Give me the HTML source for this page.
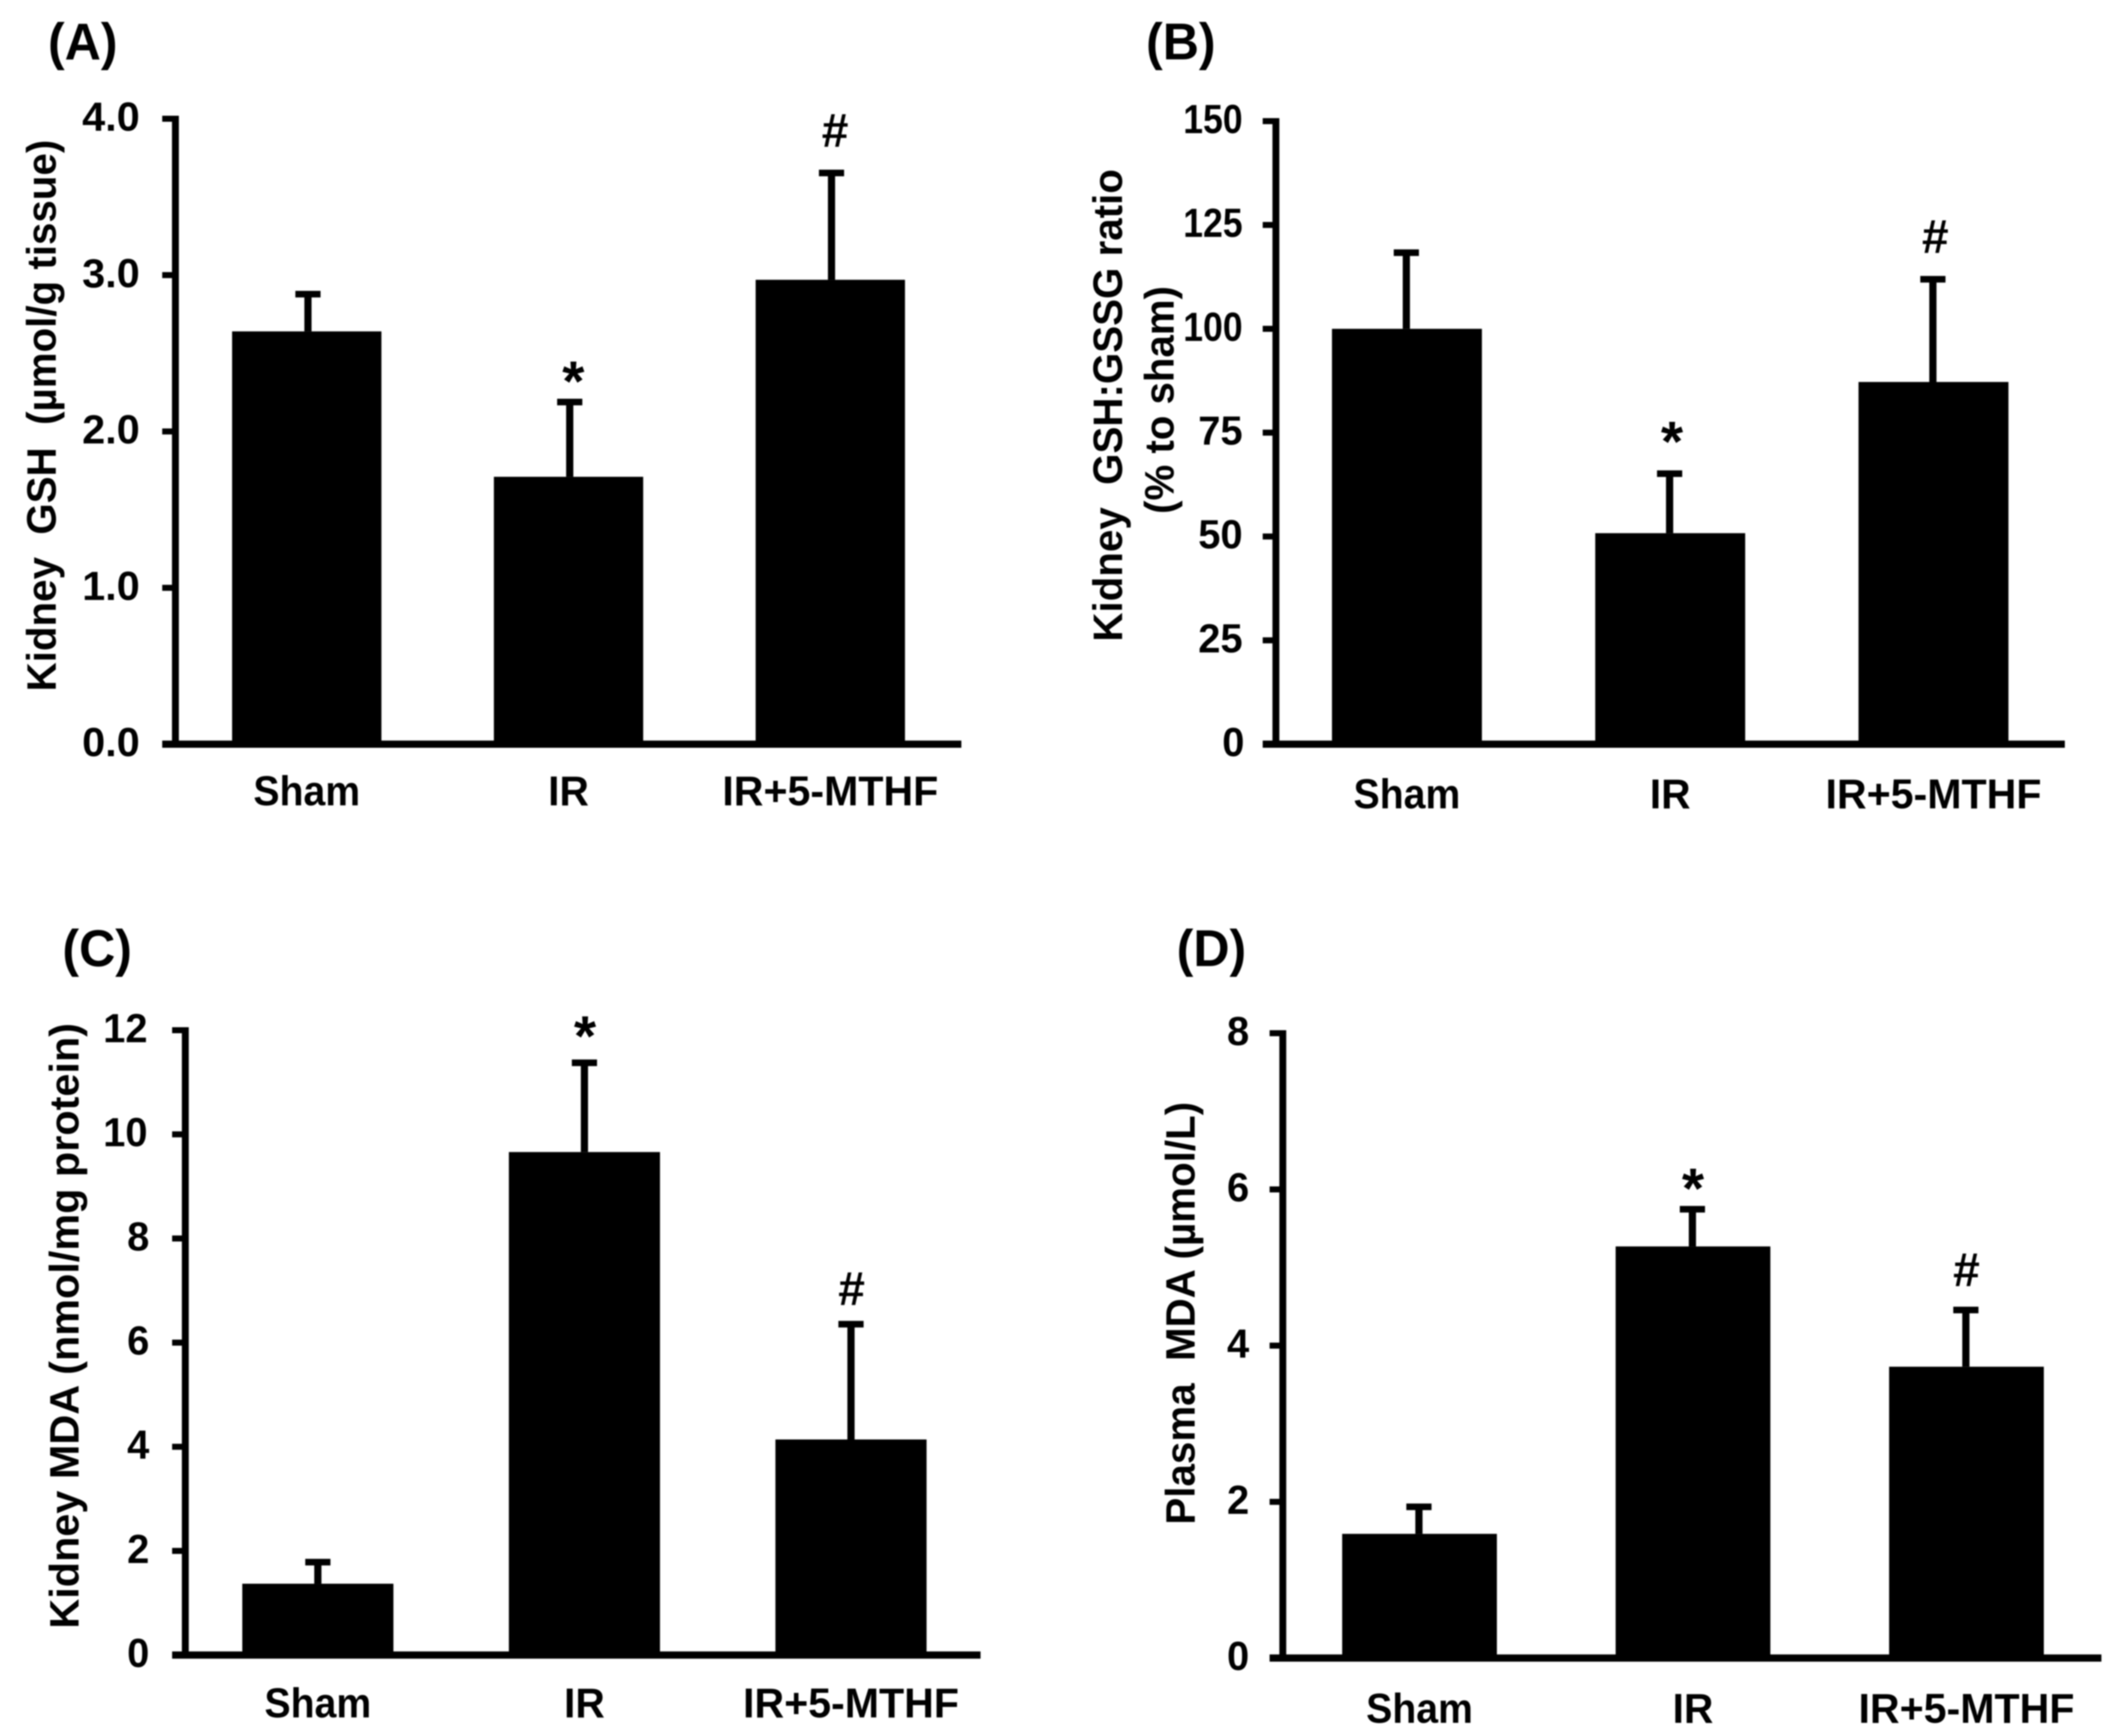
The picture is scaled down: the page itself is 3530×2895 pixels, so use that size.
<!DOCTYPE html>
<html>
<head>
<meta charset="utf-8">
<title>Kidney GSH and MDA bar charts</title>
<style>
html,body{margin:0;padding:0;background:#fff;}
svg{display:block;filter:blur(1px);}
text{font-family:"Liberation Sans",Arial,sans-serif;fill:#000;}
</style>
</head>
<body>
<svg id="figure" xmlns="http://www.w3.org/2000/svg" width="3530" height="2895" viewBox="0 0 3530 2895">
<rect x="0" y="0" width="3530" height="2895" fill="#fff"/>
</svg>
<script>
const categories = ['Sham', 'IR', 'IR+5-MTHF'];
const markers = ['', '*', '#'];

const panelAValues = [2.64, 1.71, 2.97];
const panelAErrors = [0.24, 0.48, 0.685];
const panelATicks = ['0.0', '1.0', '2.0', '3.0', '4.0'];

const panelBValues = [100, 50.8, 87.2];
const panelBErrors = [18.4, 14.4, 24.8];
const panelBTicks = ['0', '25', '50', '75', '100', '125', '150'];

const panelCValues = [1.37, 9.66, 4.14];
const panelCErrors = [0.42, 1.72, 2.22];
const panelCTicks = ['0', '2', '4', '6', '8', '10', '12'];

const panelDValues = [1.59, 5.27, 3.73];
const panelDErrors = [0.35, 0.48, 0.73];
const panelDTicks = ['0', '2', '4', '6', '8'];

const panels = [
  { id: 'a', label: '(A)', labelX: 80, labelY: 99,
    values: panelAValues, errors: panelAErrors, ticks: panelATicks,
    axisX: 292.5, top: 198, base: 1241, xEnd: 1603, barLeft: 387, barStep: 436.5, barW: 249,
    tickRight: 233, catY: 1343, errDx: 2, markDx: 8, gap: { '*': 44, '#': 69 },
    titles: [{ text: 'Kidney  GSH  (µmol/g tissue)', x: 93, y: 693, len: 920 }] },
  { id: 'b', label: '(B)', labelX: 1911, labelY: 99,
    values: panelBValues, errors: panelBErrors, ticks: panelBTicks,
    axisX: 2127.5, top: 202, base: 1241, xEnd: 3443, barLeft: 2221, barStep: 439, barW: 250,
    tickRight: 2072, catY: 1348, errDx: -1, markDx: 3, gap: { '*': 63, '#': 69 },
    titles: [{ text: 'Kidney  GSH:GSSG ratio', x: 1871, y: 676, len: 788 },
             { text: '(% to sham)', x: 1957, y: 667, len: 380 }] },
  { id: 'c', label: '(C)', labelX: 104, labelY: 1611,
    values: panelCValues, errors: panelCErrors, ticks: panelCTicks,
    axisX: 309, top: 1718, base: 2760, xEnd: 1635, barLeft: 404, barStep: 444.5, barW: 252,
    tickRight: 246, catY: 2864, errDx: 0, markDx: 1, gap: { '*': 54, '#': 57 },
    titles: [{ text: 'Kidney MDA (nmol/mg protein)', x: 131, y: 2211, len: 1010 }] },
  { id: 'd', label: '(D)', labelX: 1962, labelY: 1611,
    values: panelDValues, errors: panelDErrors, ticks: panelDTicks,
    axisX: 2139, top: 1723, base: 2765, xEnd: 3504, barLeft: 2238, barStep: 456, barW: 258,
    tickRight: 2080, catY: 2873, errDx: -1, markDx: 0, gap: { '*': 44, '#': 65 },
    titles: [{ text: 'Plasma  MDA (µmol/L)', x: 1992, y: 2190, len: 705 }] }
];

const svg = document.getElementById('figure');
const NS = 'http://www.w3.org/2000/svg';
const catLengths = { 'Sham': 178, 'IR': 68, 'IR+5-MTHF': 360 };

function addRect(parent, name, x, y, w, h) {
  const el = document.createElementNS(NS, 'rect');
  
  
  el.setAttribute('x', x);
  el.setAttribute('y', y);
  el.setAttribute('width', w);
  el.setAttribute('height', h);
  el.setAttribute('fill', '#000');
  parent.appendChild(el);
  return el;
}

function addText(parent, name, str, x, y, size, weight, anchor, len, rotated) {
  const el = document.createElementNS(NS, 'text');
  
  
  el.setAttribute('font-size', size);
  el.setAttribute('font-weight', weight);
  el.setAttribute('text-anchor', anchor);
  el.setAttribute('xml:space', 'preserve');
  el.setAttribute('style', 'white-space:pre');
  if (len) {
    el.setAttribute('textLength', len);
    el.setAttribute('lengthAdjust', 'spacingAndGlyphs');
  }
  if (rotated) {
    el.setAttribute('transform', 'translate(' + x + ' ' + y + ') rotate(-90)');
    el.setAttribute('x', 0);
    el.setAttribute('y', 0);
  } else {
    el.setAttribute('x', x);
    el.setAttribute('y', y);
  }
  el.textContent = str;
  parent.appendChild(el);
  return el;
}

function tickLabelLength(t) {
  if (t.indexOf('.') > 0) return 96;
  if (t.length === 3) return 99;
  return t.length * 37;
}

panels.forEach(function (p) {
  const g = document.createElementNS(NS, 'g');
  
  
  svg.appendChild(g);

  const maxValue = parseFloat(p.ticks[p.ticks.length - 1]);
  const yScale = function (v) { return p.base - (v / maxValue) * (p.base - p.top); };
  const xScale = function (i) { return p.barLeft + i * p.barStep; };
  const tickLen = 22;
  const axisT = 11.5;

  addText(g, 'panel-' + p.id + '-label', p.label, p.labelX, p.labelY, 86, 'bold', 'start', 116, false);

  p.titles.forEach(function (t, i) {
    addText(g, 'panel-' + p.id + '-y-axis-title-' + (i + 1), t.text, t.x, t.y, 69, 'bold', 'middle', t.len, true);
  });

  categories.forEach(function (c, i) {
    const cx = xScale(i) + p.barW / 2;
    const errTop = yScale(p.values[i] + p.errors[i]);
    addRect(g, 'panel-' + p.id + '-error-stem-' + i, cx + p.errDx - 6, errTop, 12, yScale(p.values[i]) - errTop);
    addRect(g, 'panel-' + p.id + '-error-cap-' + i, cx + p.errDx - 21, errTop - 5, 42, 11);
    addRect(g, 'panel-' + p.id + '-bar-' + i, xScale(i), yScale(p.values[i]), p.barW, p.base - yScale(p.values[i]));
    addText(g, 'panel-' + p.id + '-category-label-' + i, c, cx, p.catY, 70, 'bold', 'middle', catLengths[c], false);
    if (markers[i] === '*') {
      addText(g, 'panel-' + p.id + '-significance-star', '*', cx + p.markDx, errTop - p.gap['*'] + 42, 95, 'bold', 'middle', 0, false);
    }
    if (markers[i] === '#') {
      addText(g, 'panel-' + p.id + '-significance-hash', '#', cx + p.markDx, errTop - p.gap['#'] + 26, 80, 'bold', 'middle', 0, false);
    }
  });

  addRect(g, 'panel-' + p.id + '-y-axis', p.axisX - axisT / 2, p.top - 5, axisT, p.base - p.top + 11);
  addRect(g, 'panel-' + p.id + '-x-axis', p.axisX - tickLen, p.base - 6, p.xEnd - p.axisX + tickLen, 12);

  p.ticks.forEach(function (t) {
    const y = yScale(parseFloat(t));
    addRect(g, 'panel-' + p.id + '-y-tick-' + t, p.axisX - tickLen, y - 5, tickLen, 10);
    addText(g, 'panel-' + p.id + '-y-tick-label-' + t, t, p.tickRight + (t.length === 1 ? 3 : 0), y + 20, 68, 'bold', 'end', tickLabelLength(t), false);
  });
});
</script>
</body>
</html>
